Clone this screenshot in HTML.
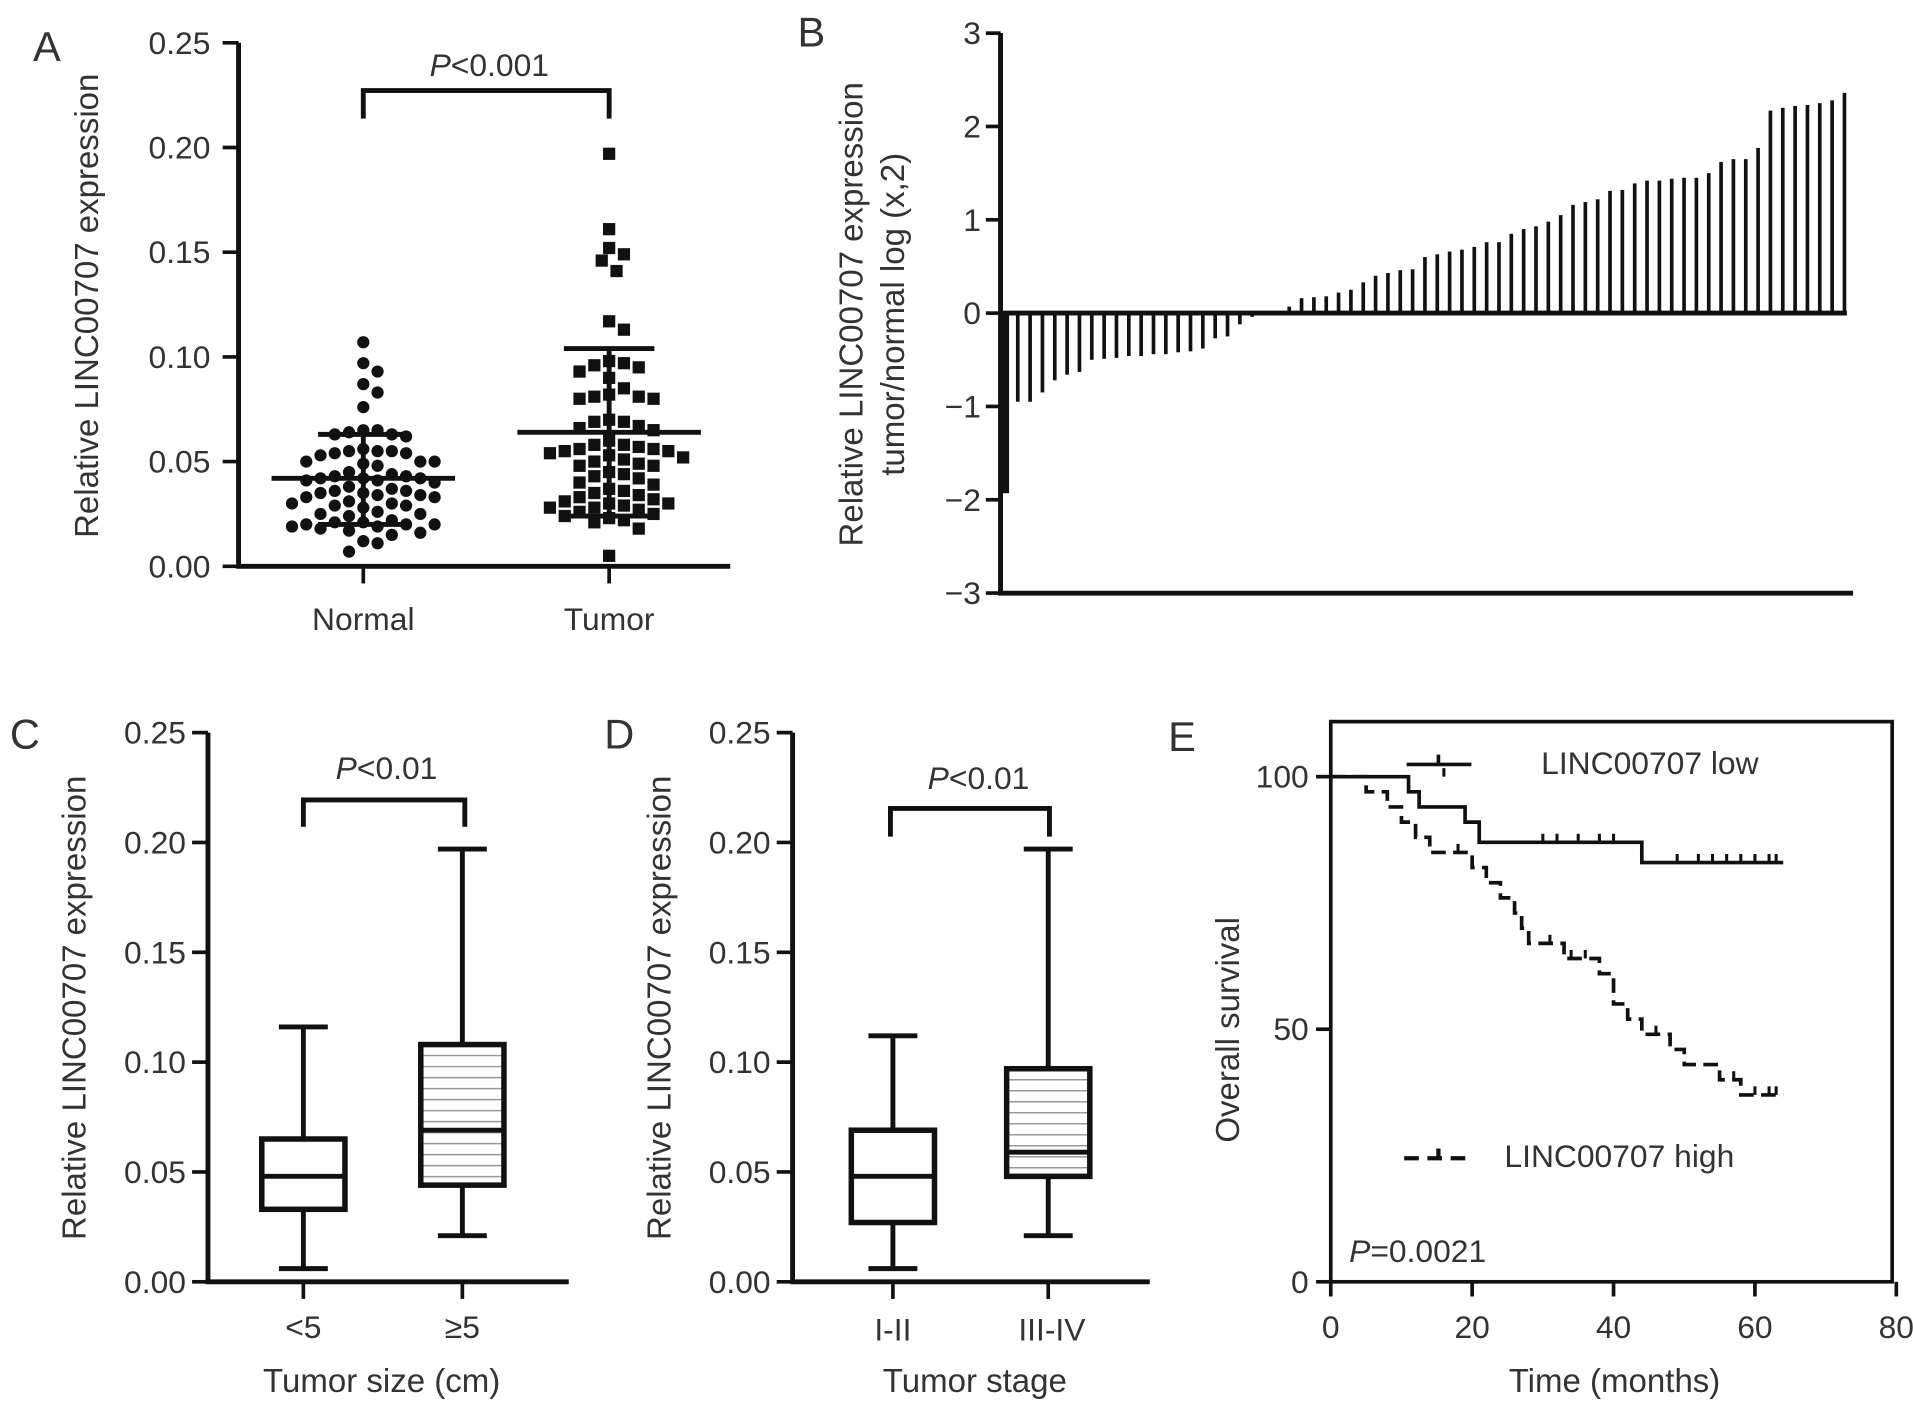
<!DOCTYPE html>
<html><head><meta charset="utf-8"><style>
html,body{margin:0;padding:0;background:#fff}
svg{display:block}
text{font-family:"Liberation Sans",sans-serif;fill:#333}
</style></head><body>
<svg id="fig" width="1913" height="1409" viewBox="0 0 1564 1152" xmlns="http://www.w3.org/2000/svg">
<!-- Panel A static -->
<text x="27" y="50" font-size="34">A</text>
<text transform="translate(80,250) rotate(-90)" text-anchor="middle" font-size="27">Relative LINC00707 expression</text>
<text x="400" y="62" text-anchor="middle" font-size="26"><tspan font-style="italic">P</tspan>&lt;0.001</text>
<path d="M297,97 V74 H498 V97" fill="none" stroke="#111" stroke-width="4"/>
<text x="297" y="515" text-anchor="middle" font-size="26">Normal</text>
<text x="498" y="515" text-anchor="middle" font-size="26">Tumor</text>
<!-- Panel B static -->
<text x="652" y="38" font-size="34">B</text>
<text transform="translate(705,257) rotate(-90)" text-anchor="middle" font-size="27">Relative LINC00707 expression</text>
<text transform="translate(739,257) rotate(-90)" text-anchor="middle" font-size="27">tumor/normal log (x,2)</text>
<!-- Panel C static -->
<text x="8" y="612" font-size="34">C</text>
<text transform="translate(70,824) rotate(-90)" text-anchor="middle" font-size="27">Relative LINC00707 expression</text>
<text x="312" y="1138" text-anchor="middle" font-size="27">Tumor size (cm)</text>
<text x="316" y="637" text-anchor="middle" font-size="26"><tspan font-style="italic">P</tspan>&lt;0.01</text>
<path d="M248,676 V654 H380 V676" fill="none" stroke="#111" stroke-width="4"/>
<text x="248" y="1094" text-anchor="middle" font-size="26">&lt;5</text>
<text x="378" y="1094" text-anchor="middle" font-size="26">≥5</text>
<!-- Panel D static -->
<text x="494" y="612" font-size="34">D</text>
<text transform="translate(548,824) rotate(-90)" text-anchor="middle" font-size="27">Relative LINC00707 expression</text>
<text x="797" y="1138" text-anchor="middle" font-size="27">Tumor stage</text>
<text x="800" y="645" text-anchor="middle" font-size="26"><tspan font-style="italic">P</tspan>&lt;0.01</text>
<path d="M728,684 V661 H858 V684" fill="none" stroke="#111" stroke-width="4"/>
<text x="730" y="1096" text-anchor="middle" font-size="26">I-II</text>
<text x="860" y="1096" text-anchor="middle" font-size="26">III-IV</text>
<!-- Panel E static -->
<text x="955" y="614" font-size="34">E</text>
<text transform="translate(1013,842) rotate(-90)" text-anchor="middle" font-size="27">Overall survival</text>
<text x="1320" y="1138" text-anchor="middle" font-size="27">Time (months)</text>
<rect x="1088" y="590" width="459" height="458" fill="none" stroke="#111" stroke-width="3"/>
<path d="M1150,625 H1203 M1176,617 V625" stroke="#111" stroke-width="3"/>
<text x="1260" y="633" font-size="26">LINC00707 low</text>
<path d="M1148,947 H1200 M1176,939 V947" stroke="#111" stroke-width="3.5" stroke-dasharray="12,7"/>
<text x="1230" y="954" font-size="26">LINC00707 high</text>
<text x="1103" y="1032" font-size="26"><tspan font-style="italic">P</tspan>=0.0021</text>
<g id="dyn"></g>
</svg>
<script>
// Panel A data
const normalValues = [0.107,0.097,0.093,0.087,0.083,0.076,0.065,0.065,0.064,0.063,0.063,0.062,0.056,0.055,0.055,0.055,0.054,0.054,0.053,0.05,0.05,0.05,0.049,0.048,0.045,0.044,0.043,0.043,0.042,0.042,0.042,0.041,0.041,0.04,0.038,0.037,0.036,0.036,0.035,0.035,0.034,0.034,0.033,0.033,0.031,0.03,0.03,0.029,0.029,0.028,0.026,0.025,0.025,0.024,0.022,0.021,0.021,0.02,0.02,0.02,0.019,0.019,0.018,0.017,0.016,0.015,0.012,0.011,0.007];
const tumorValues = [0.197,0.161,0.152,0.149,0.146,0.141,0.117,0.113,0.098,0.097,0.096,0.095,0.093,0.09,0.085,0.082,0.081,0.081,0.08,0.08,0.07,0.069,0.069,0.067,0.066,0.065,0.06,0.058,0.058,0.057,0.056,0.056,0.055,0.055,0.054,0.053,0.052,0.051,0.05,0.049,0.048,0.048,0.045,0.044,0.043,0.042,0.04,0.039,0.037,0.036,0.035,0.034,0.033,0.032,0.031,0.03,0.03,0.029,0.028,0.028,0.027,0.026,0.025,0.024,0.023,0.022,0.021,0.018,0.005];
const groupStats = [[0.042,0.020,0.063],[0.064,0.024,0.104]]; // mean, lower SD, upper SD
const exprTicks = [0,0.05,0.10,0.15,0.20,0.25];
const exprTickLabels = ["0.00","0.05","0.10","0.15","0.20","0.25"];
// Panel B data
const foldValues = [-1.93,-0.95,-0.95,-0.85,-0.72,-0.66,-0.63,-0.5,-0.49,-0.48,-0.46,-0.46,-0.44,-0.44,-0.42,-0.41,-0.38,-0.27,-0.25,-0.12,-0.04,0.0,0.02,0.07,0.16,0.17,0.18,0.22,0.25,0.33,0.4,0.43,0.46,0.47,0.6,0.63,0.66,0.68,0.71,0.76,0.76,0.85,0.9,0.93,0.98,1.05,1.16,1.19,1.22,1.31,1.32,1.39,1.42,1.42,1.44,1.45,1.45,1.5,1.62,1.65,1.65,1.77,2.17,2.2,2.22,2.23,2.25,2.28,2.36];
const foldTicks = [-3,-2,-1,0,1,2,3];
const foldTickLabels = ["−3","−2","−1","0","1","2","3"];
// Panel C/D box data: [whiskerLow, q1, median, q3, whiskerHigh]
const sizeBoxes = [[0.006,0.033,0.048,0.065,0.116],[0.021,0.044,0.069,0.108,0.197]];
const stageBoxes = [[0.006,0.027,0.048,0.069,0.112],[0.021,0.048,0.059,0.097,0.197]];
// Panel E data
const lowTimes = [0,11,12.5,19,21,44,64];
const lowSurv = [100,97,94,91,87,83,83];
const lowCensor = [[16,100],[30,87],[32,87],[35,87],[38,87],[40,87],[49,83],[52,83],[54,83],[56,83],[58,83],[60,83],[62,83],[63,83]];
const highTimes = [0,5,8,10,12,14,20,22,24,26,27,28,33,38,40,42,44,48,50,55,58,64];
const highSurv = [100,97,94,91,88,85,82,79,76,73,70,67,64,61,55,52,49,46,43,40,37,37];
const highCensor = [[18,85],[31,67],[34,64],[36,64],[46,49],[57,40],[60,37],[62,37],[63,37]];
const survTicks = [0,50,100];
const timeTicks = [0,20,40,60,80];

const NS="http://www.w3.org/2000/svg";
const dyn=document.getElementById('dyn');
function mk(tag,attrs){const e=document.createElementNS(NS,tag);for(const k in attrs)e.setAttribute(k,attrs[k]);dyn.appendChild(e);return e;}

// ---------- Panel A ----------
const yA=v=>463-v/0.25*428;
let e;
e=mk('path',{d:'M195,35 V463 H597',fill:'none',stroke:'#111','stroke-width':4});


exprTicks.forEach((t,i)=>{
  e=mk('line',{x1:182,x2:195,y1:yA(t),y2:yA(t),stroke:'#111','stroke-width':3});
  
  
  e=mk('text',{x:172,y:yA(t)+9,'text-anchor':'end','font-size':26});
  e.textContent=exprTickLabels[i];
  
  
});
[297,498].forEach(cx=>{
  e=mk('line',{x1:cx,x2:cx,y1:463,y2:477,stroke:'#111','stroke-width':3});
  
  
});
function swarm(vals,cx,r){
  const placed=[];const out=[];
  vals.forEach(v=>{
    const y=yA(v);let off=0,k=0;
    while(true){
      off=(k%2===1?1:-1)*Math.ceil(k/2)*r*1.1;
      if(k===0)off=0;
      const ok=placed.every(p=>Math.hypot(p[0]-(cx+off),p[1]-y)>=2*r);
      if(ok)break;k++;
    }
    placed.push([cx+off,y]);out.push([cx+off,y]);
  });
  return out;
}
swarm(normalValues,297,5.3).forEach(p=>{
  e=mk('circle',{cx:p[0],cy:p[1],r:5,fill:'#111'});
  
  
});
swarm(tumorValues,498,5.5).forEach(p=>{
  e=mk('rect',{x:p[0]-5,y:p[1]-5,width:10,height:10,fill:'#111'});
  
  
});
[297,498].forEach((cx,i)=>{
  const s=groupStats[i];
  e=mk('path',{d:`M${cx-75},${yA(s[0])} H${cx+75} M${cx},${yA(s[1])} V${yA(s[2])} M${cx-37},${yA(s[1])} H${cx+37} M${cx-37},${yA(s[2])} H${cx+37}`,stroke:'#111','stroke-width':4,fill:'none'});
  
  
});

// ---------- Panel B ----------
const yB=v=>256-v*76.3;
e=mk('path',{d:'M818,27 V485 H1515',fill:'none',stroke:'#111','stroke-width':4});


foldTicks.forEach((t,i)=>{
  e=mk('line',{x1:806,x2:818,y1:yB(t),y2:yB(t),stroke:'#111','stroke-width':3});
  
  
  e=mk('text',{x:802,y:yB(t)+9,'text-anchor':'end','font-size':26});
  e.textContent=foldTickLabels[i];
  
  
});
const bStep=(1508-822)/(foldValues.length-1);
foldValues.forEach((v,i)=>{
  const x=822+i*bStep;const w=i===0?6:3;
  e=mk('rect',{x:x-w/2,y:Math.min(yB(v),yB(0)),width:w,height:Math.abs(yB(v)-yB(0)),fill:'#111'});
  
  
});
e=mk('line',{x1:818,x2:1510,y1:yB(0),y2:yB(0),stroke:'#111','stroke-width':4});



// ---------- Panels C & D ----------
const yC=v=>1048-v/0.25*449;
function boxPanel(axX,axEnd,centers,boxes,prefix){
  e=mk('path',{d:`M${axX},599 V1048 H${axEnd}`,fill:'none',stroke:'#111','stroke-width':4});
  
  
  exprTicks.forEach((t,i)=>{
    e=mk('line',{x1:axX-13,x2:axX,y1:yC(t),y2:yC(t),stroke:'#111','stroke-width':3});
    
    
    e=mk('text',{x:axX-18,y:yC(t)+9,'text-anchor':'end','font-size':26});
    e.textContent=exprTickLabels[i];
    
    
  });
  centers.forEach((cx,i)=>{
    e=mk('line',{x1:cx,x2:cx,y1:1048,y2:1062,stroke:'#111','stroke-width':3});
    
    
    const b=boxes[i];const hw=34;
    if(i===1){
      for(let y=yC(b[3])+9;y<yC(b[1])-3;y+=9){
        e=mk('line',{x1:cx-hw,x2:cx+hw,y1:y,y2:y,stroke:'#999','stroke-width':1.2});
        
        
      }
    }
    e=mk('path',{d:`M${cx},${yC(b[0])} V${yC(b[1])} M${cx},${yC(b[3])} V${yC(b[4])} M${cx-20},${yC(b[0])} H${cx+20} M${cx-20},${yC(b[4])} H${cx+20} M${cx-hw},${yC(b[2])} H${cx+hw}`,stroke:'#111','stroke-width':4,fill:'none'});
    
    
    e=mk('rect',{x:cx-hw,y:yC(b[3]),width:2*hw,height:yC(b[1])-yC(b[3]),fill:'none',stroke:'#111','stroke-width':4.5});
    
    
  });
}
boxPanel(170,465,[248,378],sizeBoxes,'panel-c');
boxPanel(648,940,[730,857],stageBoxes,'panel-d');

// ---------- Panel E ----------
const xE=t=>1088+t*5.78;
const yE=s=>1048-s*4.13;
survTicks.forEach(t=>{
  e=mk('line',{x1:1076,x2:1088,y1:yE(t),y2:yE(t),stroke:'#111','stroke-width':3});
  
  
  e=mk('text',{x:1070,y:yE(t)+9,'text-anchor':'end','font-size':26});
  e.textContent=String(t);
  
  
});
timeTicks.forEach(t=>{
  e=mk('line',{x1:xE(t),x2:xE(t),y1:1048,y2:1060,stroke:'#111','stroke-width':3});
  
  
  e=mk('text',{x:xE(t),y:1094,'text-anchor':'middle','font-size':26});
  e.textContent=String(t);
  
  
});
function km(times,surv){
  let d=`M${xE(times[0])},${yE(surv[0])}`;
  for(let i=1;i<times.length;i++){d+=` H${xE(times[i])} V${yE(surv[i])}`;}
  return d;
}
e=mk('path',{d:km(lowTimes,lowSurv),fill:'none',stroke:'#111','stroke-width':3});


e=mk('path',{d:km(highTimes,highSurv),fill:'none',stroke:'#111','stroke-width':3,'stroke-dasharray':'12,6'});


lowCensor.concat(highCensor).forEach(c=>{
  e=mk('line',{x1:xE(c[0]),x2:xE(c[0]),y1:yE(c[1])-7,y2:yE(c[1]),stroke:'#111','stroke-width':2.5});
  
  
});
</script>
</body></html>
